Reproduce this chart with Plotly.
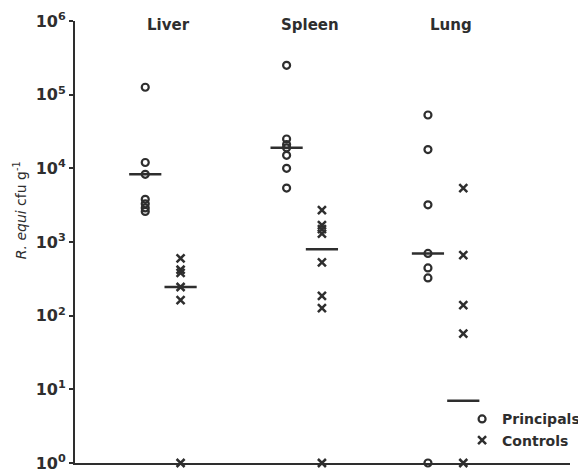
import plotly.graph_objects as go

# ---- data ----
organs = ["Liver", "Spleen", "Lung"]
organ_pos = [1, 2, 3]

principals = {
    "Liver": [126000, 12000, 8300, 3800, 3300, 2900, 2600],
    "Spleen": [250000, 25000, 21000, 19000, 15000, 10000, 5400],
    "Lung": [53000, 18000, 3200, 700, 445, 325, 1],
}
controls = {
    "Liver": [600, 420, 380, 245, 163, 1],
    "Spleen": [2700, 1700, 1500, 1300, 530, 185, 127, 1],
    "Lung": [5400, 665, 139, 57, 1],
}
principal_means = [8300, 19000, 700]
control_means = [245, 800, 7]

tick_vals = [1, 10, 100, 1000, 10000, 100000, 1000000]
tick_text = ["10<sup>0</sup>", "10<sup>1</sup>", "10<sup>2</sup>", "10<sup>3</sup>",
             "10<sup>4</sup>", "10<sup>5</sup>", "10<sup>6</sup>"]

offset = 0.125
ink = "#2e2e2e"
font_family = "DejaVu Sans, Liberation Sans, Arial, sans-serif"

fig = go.Figure()

px, py, cx, cy = [], [], [], []
for pos, org in zip(organ_pos, organs):
    for v in principals[org]:
        px.append(pos - offset)
        py.append(v)
    for v in controls[org]:
        cx.append(pos + offset)
        cy.append(v)

fig.add_trace(go.Scatter(
    x=px, y=py, mode="markers", name="Principals", cliponaxis=False,
    marker=dict(symbol="circle-open", size=7, color=ink, line=dict(width=2.2, color=ink)),
))
fig.add_trace(go.Scatter(
    x=cx, y=cy, mode="markers", name="Controls", cliponaxis=False,
    marker=dict(symbol="x-thin", size=8, color=ink, line=dict(width=2.5, color=ink)),
))
fig.add_trace(go.Scatter(
    x=[p - offset for p in organ_pos], y=principal_means, mode="markers",
    showlegend=False, cliponaxis=False, hoverinfo="skip",
    marker=dict(symbol="line-ew", size=23, color=ink, line=dict(width=2.5, color=ink)),
))
fig.add_trace(go.Scatter(
    x=[p + offset for p in organ_pos], y=control_means, mode="markers",
    showlegend=False, cliponaxis=False, hoverinfo="skip",
    marker=dict(symbol="line-ew", size=23, color=ink, line=dict(width=2.5, color=ink)),
))

for pos, org in zip(organ_pos, organs):
    fig.add_annotation(
        x=pos + 0.04, y=0.99, xref="x", yref="paper", text="<b>%s</b>" % org,
        showarrow=False, font=dict(family=font_family, size=15, color=ink),
        xanchor="center", yanchor="middle",
    )

# y-axis title as an annotation so it can sit where the reference puts it
fig.add_annotation(
    x=-0.111, y=0.572, xref="paper", yref="paper",
    text="<i>R. equi</i> cfu g<sup>-1</sup>", textangle=-90,
    showarrow=False, font=dict(family=font_family, size=14, color=ink),
    xanchor="center", yanchor="middle",
)

fig.update_layout(
    width=578, height=464,
    margin=dict(l=67, r=16, t=13, b=9, autoexpand=False),
    plot_bgcolor="white", paper_bgcolor="white",
    font=dict(family=font_family, color=ink),
    showlegend=True,
    legend=dict(
        x=0.782, y=0.135, xanchor="left", yanchor="top",
        font=dict(family=font_family, size=14, color=ink, weight="bold"),
        bgcolor="rgba(0,0,0,0)", itemwidth=30, tracegroupgap=0,
        borderwidth=0,
    ),
    xaxis=dict(
        range=[0.378, 3.88], showgrid=False, zeroline=False,
        showticklabels=False, ticks="", showline=True,
        linecolor=ink, linewidth=2,
    ),
    yaxis=dict(
        type="log", range=[0, 6], showgrid=False, zeroline=False,
        tickvals=tick_vals, ticktext=tick_text, ticklabeloverflow="allow",
        ticks="outside", ticklen=4, tickwidth=2, tickcolor=ink,
        showline=True, linecolor=ink, linewidth=2,
        tickfont=dict(family=font_family, size=16, color=ink, weight="bold"),
    ),
)

fig.write_html("out.html")
